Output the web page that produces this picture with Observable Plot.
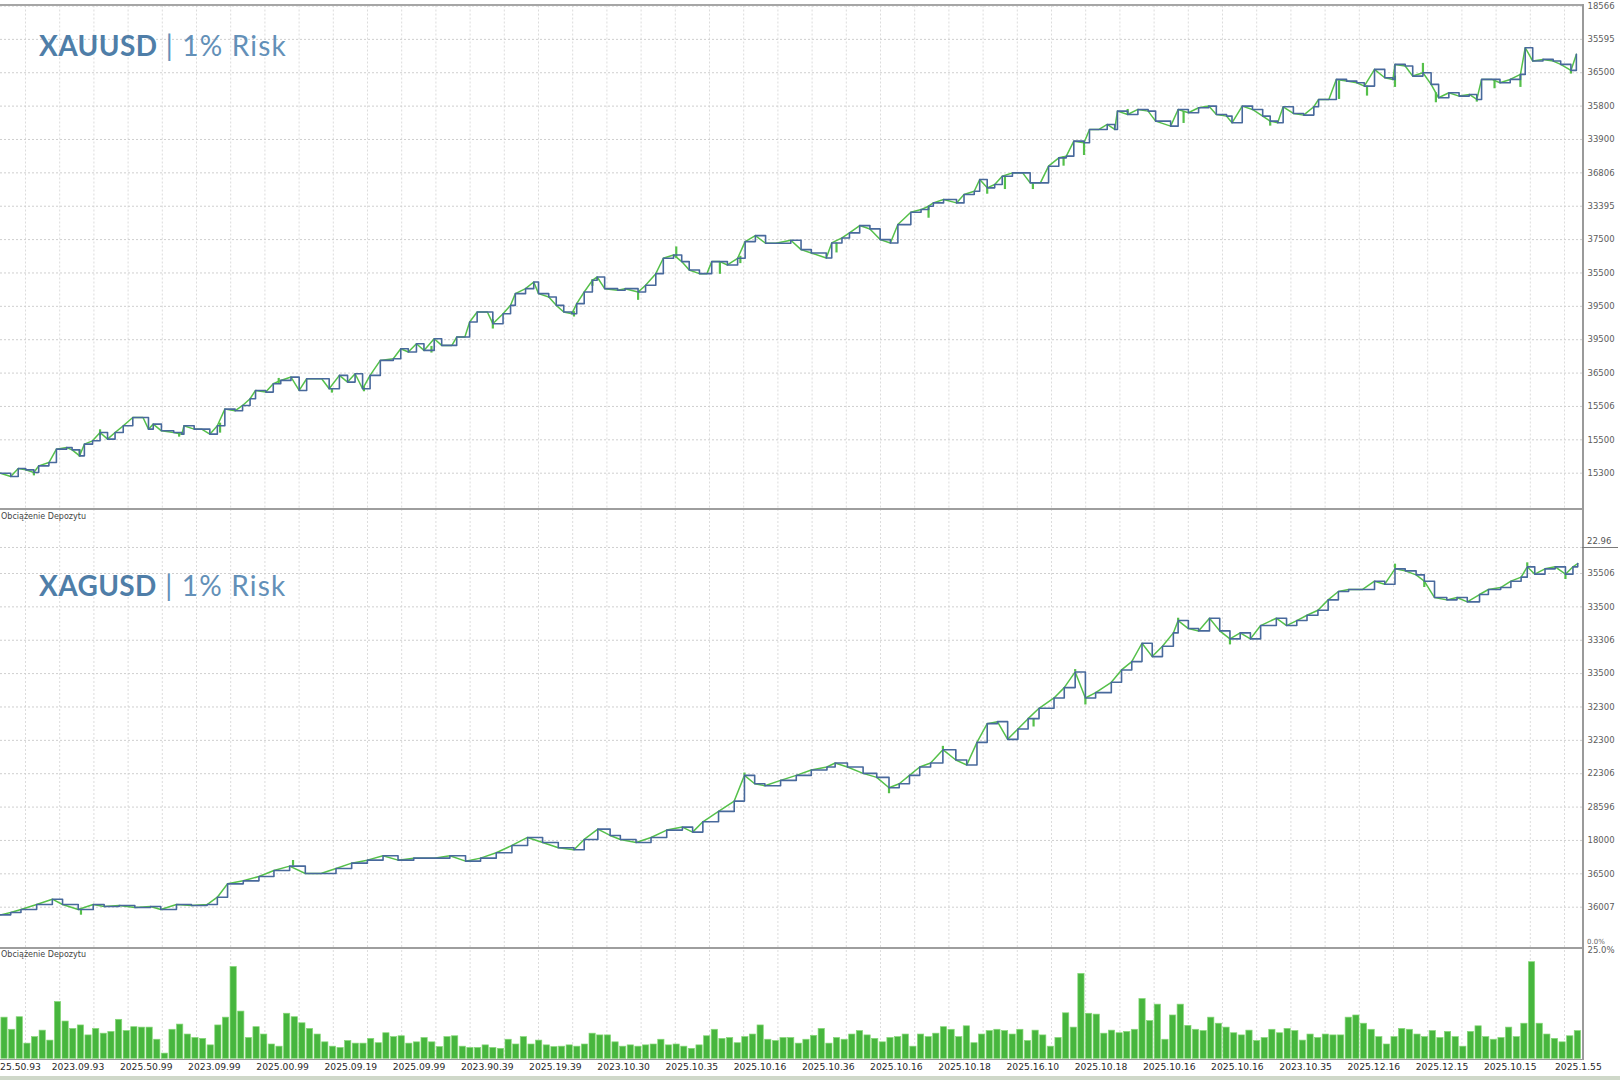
<!DOCTYPE html>
<html><head><meta charset="utf-8">
<script src="https://cdn.jsdelivr.net/npm/d3@7"></script>
<script src="https://cdn.jsdelivr.net/npm/@observablehq/plot@0.6"></script>
<style>
html,body{margin:0;padding:0;background:#fff;}
#wrap{position:relative;width:1620px;height:1080px;overflow:hidden;background:#fff;}
.pane{position:absolute;left:0;}
.title{position:absolute;left:39px;font-family:Lato,"Open Sans",sans-serif;font-size:28px;line-height:28px;color:#6390b8;white-space:nowrap;letter-spacing:1.2px;}
.title b{font-weight:700;color:#4f7ea8;letter-spacing:0.4px;}
.small{position:absolute;font-family:"DejaVu Sans",sans-serif;font-size:8px;color:#444;white-space:nowrap;line-height:10px;}
.hl{position:absolute;background:#a6a6a6;}
</style></head><body><div id="wrap"></div>
<script>
// ---------- DATA ----------
// XAUUSD balance curve: trade number and balance
const xauTrade = [
 0,1.5,2.6,3.7,4.9,5.6,7.1,8.2,9.7,10.5,
 11.6,12.3,13.5,14.6,15.7,16.8,18.0,19.4,20.9,21.7,
 22.4,23.6,25.4,26.6,26.9,28.4,29.5,30.7,31.8,32.9,
 34.4,35.5,36.6,37.4,38.9,40.0,41.1,42.6,43.8,44.9,
 47.1,48.2,49.7,50.9,52.0,53.1,54.2,55.7,57.6,58.7,
 59.8,61.0,62.1,63.6,64.7,66.2,66.9,68.1,68.8,69.9,
 71.4,72.2,73.7,74.8,75.5,77.0,78.2,78.9,80.4,81.5,
 82.6,83.8,84.5,85.6,86.8,87.5,88.6,90.5,91.6,93.5,
 94.6,96.1,97.2,98.7,99.9,101.0,102.5,103.6,104.3,105.5,
 106.6,108.1,109.2,110.7,112.2,113.7,115.9,117.4,118.9,121.1,
 121.9,123.4,124.5,126.0,127.5,129.0,130.5,131.6,133.5,135.0,
 136.1,136.8,138.3,140.2,141.3,142.8,143.6,144.7,145.8,146.9,
 148.4,149.9,151.0,152.5,153.7,155.2,156.3,157.4,158.9,159.7,
 161.1,162.3,163.4,163.8,165.3,166.8,168.3,169.4,171.6,172.7,
 174.2,175.7,177.2,178.3,179.8,180.6,182.1,183.6,185.1,186.2,
 187.3,188.1,189.6,191.1,192.6,193.3,194.8,195.9,197.4,198.9,
 200.0,201.5,203.0,204.2,204.5,206.0,207.1,208.6,209.8,210.9,
 212.4,213.9,215.4,216.5,217.2,218.7,219.9,221.4,222.9,223.6,
 224.7,226.2,227.7,228.8,230.3,231.1];
const xauBalance = [
 10000,9950,10070,10050,10010,10110,10160,10360,10385,10350,
 10260,10435,10485,10610,10510,10610,10710,10835,10835,10660,
 10735,10635,10610,10585,10710,10660,10660,10585,10710,10960,
 10935,11015,11115,11240,11215,11340,11390,11440,11240,11415,
 11415,11265,11465,11365,11490,11265,11465,11690,11715,11865,
 11815,11940,11840,12015,11915,11915,12040,12040,12265,12415,
 12415,12240,12390,12515,12690,12765,12865,12690,12640,12515,
 12415,12390,12540,12715,12890,12940,12765,12740,12765,12715,
 12815,12990,13220,13270,13170,13045,12990,12990,13170,13170,
 13120,13220,13470,13560,13445,13445,13490,13350,13300,13225,
 13450,13525,13600,13710,13660,13500,13450,13725,13910,13950,
 14000,14050,14100,14050,14175,14225,14400,14275,14325,14450,
 14500,14500,14350,14350,14600,14725,14750,14975,14950,15150,
 15150,15225,15150,15425,15375,15450,15425,15275,15200,15450,
 15400,15475,15500,15375,15350,15250,15500,15450,15350,15275,
 15250,15490,15390,15365,15490,15600,15600,15900,15875,15850,
 15800,16050,15925,15900,16125,16100,15950,16000,15825,15625,
 15700,15650,15675,15600,15900,15900,15850,15900,15975,16375,
 16175,16200,16175,16125,16035,16275];
// XAUUSD equity excursions (green)
const xauEqTrade = [4.9,11.6,14.6,26.2,32.2,40.8,48.6,53.3,63.2,72.2,84.1,86.8,93.5,99.1,105.5,108.5,122.6,136.1,144.7,147.3,151.4,155.9,158.9,165.3,173.5,186.2,196.3,200.4,204.5,208.6,210.5,216.5,219.1,222.9,230.3];
const xauEqFrom  = [10010,10350,10560,10590,10750,11340,11265,11300,11900,12300,12420,12800,12715,13220,13170,13250,13450,14000,14280,14450,14350,14740,14950,15375,15420,15275,15880,15800,15950,16000,15700,15600,15900,15975,16035];
const xauEqTo    = [9960,10240,10650,10540,10600,11420,11200,11220,11800,12160,12340,12900,12590,13390,12980,13140,13300,13820,14180,14250,14250,14600,14760,15450,15240,15200,15600,15650,15780,16140,15550,15560,15760,15780,15980];

// XAGUSD balance curve
const xagTrade = [
 0,1.5,3.0,5.3,7.6,9.1,11.4,13.6,15.2,17.4,
 19.7,22.0,23.5,25.8,28.0,30.3,31.8,33.3,35.6,37.9,
 40.1,42.4,44.7,47.0,49.2,51.5,53.8,56.1,58.3,60.6,
 63.6,65.9,68.2,70.4,72.7,75.0,77.3,79.5,81.8,84.1,
 85.6,87.6,89.4,90.9,93.2,95.4,97.7,100.0,101.5,103.0,
 105.3,107.6,109.1,110.6,112.1,114.4,116.7,118.9,121.2,122.4,
 124.2,126.5,128.5,130.3,131.8,133.3,134.8,136.4,138.2,140.1,
 141.7,143.2,144.7,146.2,147.7,149.2,150.7,152.3,154.5,156.0,
 157.6,159.1,160.6,162.9,164.4,165.9,167.4,168.9,170.4,172.0,
 172.7,174.2,175.7,177.3,178.8,180.3,181.8,183.3,184.8,187.1,
 188.6,190.1,191.6,193.2,194.7,196.2,197.7,199.7,201.5,203.0,
 204.5,206.0,207.6,208.8,210.3,212.1,213.6,215.1,216.9,218.2,
 220.0,221.5,223.0,223.9,225.0,226.5,228.0,229.5,230.6,231.3];
const xagBalance = [
 9885,9920,9965,10040,10120,10040,9965,10040,10010,10025,
 9995,10010,9965,10040,10025,10040,10150,10350,10395,10460,
 10550,10615,10505,10505,10580,10660,10705,10770,10705,10735,
 10735,10770,10690,10735,10815,10925,11045,10970,10890,10860,
 11015,11170,11075,11015,10970,11045,11155,11200,11125,11280,
 11435,11590,11975,11850,11820,11900,11975,12055,12100,12160,
 12100,12005,11945,11790,11850,11975,12100,12160,12360,12205,
 12130,12470,12750,12780,12515,12670,12825,12980,13135,13290,
 13525,13135,13215,13370,13555,13680,13955,13755,13910,14110,
 14295,14175,14140,14330,14140,14020,14110,14020,14220,14330,
 14220,14295,14375,14450,14605,14730,14760,14760,14885,14840,
 15070,15040,14980,14885,14640,14605,14640,14575,14685,14760,
 14790,14885,14945,15100,14990,15070,15100,14990,15100,15150];
const xagEqTrade = [11.8,42.9,109.1,130.3,138.2,151.5,157.6,159.1,172.7,180.3,204.5,208.8,223.9,229.5];
const xagEqFrom  = [9965,10615,11975,11790,12360,12825,13525,13135,14295,14020,15070,14885,15100,14990];
const xagEqTo    = [9880,10700,12010,11700,12410,12700,13560,13030,14330,13930,15140,14790,15160,14910];

// Deposit load (%) per bar
const depositLoad = [
 9.5,6.7,9.6,3.5,5.0,6.5,4.2,13.1,8.6,6.9,
 7.7,5.4,6.9,5.8,6.2,9.0,6.4,7.3,7.2,7.2,
 4.4,1.2,6.7,7.9,5.6,4.8,4.6,3.1,7.7,9.5,
 21.2,10.9,4.8,7.3,5.6,3.3,2.8,10.4,9.6,8.2,
 6.9,5.6,3.8,2.8,2.5,4.1,3.5,3.5,4.6,3.6,
 5.9,5.0,5.2,3.5,3.8,4.8,3.8,2.7,5.0,5.2,
 2.8,2.5,2.5,3.1,2.5,2.3,4.4,3.3,5.0,3.3,4.2,
 3.1,2.7,2.8,3.1,2.8,3.3,5.8,5.4,5.4,3.8,
 2.8,3.1,2.8,3.1,3.3,4.4,3.1,3.3,2.8,2.3,
 3.1,5.2,6.7,4.6,4.8,3.6,5.0,5.6,7.7,4.4,
 4.1,4.8,4.8,3.5,4.4,5.3,6.9,3.5,4.8,4.4,
 5.6,6.4,5.4,4.6,3.8,4.8,5.0,5.6,2.8,5.6,
 5.0,5.8,7.3,6.7,5.0,7.5,3.6,5.6,6.4,6.7,
 6.4,5.6,6.7,4.1,6.5,5.4,2.8,4.8,10.5,7.2,
 19.6,10.4,
 10.2,5.8,6.5,5.9,6.2,6.7,13.8,8.7,12.5,4.4,
 10.0,12.5,7.6,6.7,6.4,9.5,8.1,7.2,5.9,5.4,
 6.5,4.1,4.8,6.7,5.9,6.9,6.4,4.2,5.6,4.8,
 5.6,5.4,5.4,9.5,10.0,8.1,6.7,5.0,3.3,5.0,
 6.9,6.7,5.6,5.0,6.4,4.8,6.2,5.0,2.8,6.2,
 7.5,5.0,4.4,4.8,7.2,5.0,8.1,22.3,8.1,5.6,
 4.6,3.8,5.2,6.4];

// Tick values and labels
const xauTickValues = [10000,10500,11000,11500,12000,12500,13000,13500,14000,14500,15000,15500,16000,16500,17000];
const xauTickLabels = ["15300","15500","15506","36500","39500","39500","35500","37500","33395","36806","33900","35800","36500","35595","18566"];
const xagTickValues = [10000,10500,11000,11500,12000,12500,13000,13500,14000,14500,15000];
const xagTickLabels = ["36007","36500","18000","28596","22306","32300","32300","33500","33306","33500","35506"];
const dateLabels = ["25.50.93","2023.09.93","2025.50.99","2023.09.99","2025.00.99","2025.09.19","2025.09.99","2023.90.39","2025.19.39","2023.10.30","2025.10.35","2025.10.16","2025.10.36","2025.10.16","2025.10.18","2025.16.10","2025.10.18","2025.10.16","2025.10.16","2023.10.35","2025.12.16","2025.12.15","2025.10.15","2025.1.55"];
const loadTickValues = [25];
const loadTickLabels = ["25.0%"];

// ---------- LAYOUT ----------
const W = 1620, PR = 1582;
const blue = "#48699c", green = "#55c04a";
const gridH = {stroke:"#cfcfcf", strokeOpacity:1, strokeDasharray:"2,2"};
const gridV = {stroke:"#dcdcdc", strokeOpacity:1, strokeDasharray:"2,2"};
const lineX = d3.scaleLinear([0, 232], [0, PR]);
const gridPx = d3.range(25, PR, 34.2);
const lineGrid = gridPx.map(p => lineX.invert(p));
const baseStyle = {background:"transparent", fontFamily:"DejaVu Sans, sans-serif", fontSize:"8.5px", color:"#5c5c5c", overflow:"visible"};

const wrap = document.getElementById("wrap");
function place(el, top){ el.classList.add("pane"); el.style.top = top + "px"; wrap.appendChild(el); }

function equityPanel(o){
  const bal = o.T.map((t,i)=>({t, v:o.V[i]}));
  const eq = o.ET.map((t,i)=>({t, a:o.EF[i], b:o.ETo[i]}));
  return Plot.plot({
    width: W, height: o.height,
    marginLeft: 0, marginRight: W - PR, marginTop: o.mTop, marginBottom: o.mBottom,
    x: {domain:[0,232], axis:null},
    y: {domain:o.yDomain},
    style: baseStyle,
    marks: [
      Plot.gridX(lineGrid, gridV),
      Plot.gridY(o.grid, gridH),
      Plot.axisY(o.ticks, {anchor:"right", tickSize:0, tickPadding:5, label:null,
        tickFormat: d => o.labels[o.ticks.indexOf(d)]}),
      Plot.line(bal, {x:"t", y:"v", stroke:green, strokeWidth:1.5, curve:"linear"}),
      Plot.ruleX(eq, {x:"t", y1:"a", y2:"b", stroke:green, strokeWidth:2.2}),
      Plot.line(bal, {x:"t", y:"v", stroke:blue, strokeWidth:1.6, curve:"step-after"})
    ]
  });
}

const p1 = equityPanel({height:509, mTop:5.5, mBottom:1, yDomain:[9471,17000],
  ticks:xauTickValues, labels:xauTickLabels, grid:xauTickValues,
  T:xauTrade, V:xauBalance, ET:xauEqTrade, EF:xauEqFrom, ETo:xauEqTo});
place(p1, 0);

const p2 = equityPanel({height:439, mTop:0, mBottom:0, yDomain:[9381,15959],
  ticks:xagTickValues, labels:xagTickLabels, grid:xagTickValues.concat([15390]),
  T:xagTrade, V:xagBalance, ET:xagEqTrade, EF:xagEqFrom, ETo:xagEqTo});
place(p2, 509);

const nb = depositLoad.length;
const barX = d3.scaleLinear([0, nb], [0, 1581]);
const bars = depositLoad.map((v,i)=>({i, j:i+1, v}));
const dateTicks = dateLabels.map((_,m) => barX.invert(m === 0 ? 20 : 9.3 + 68.2*m));
const p3 = Plot.plot({
  width: W, height: 132,
  marginLeft: 0, marginRight: W - 1581, marginTop: 2, marginBottom: 21.7,
  x: {domain:[0, nb]},
  y: {domain:[0, 25]},
  style: baseStyle,
  marks: [
    Plot.gridX(gridPx.map(p => barX.invert(p)), gridV),
    Plot.rectY(bars, {x1:"i", x2:"j", y:"v", fill:"#47b63e", stroke:"#86d878", strokeWidth:0.7, insetLeft:0.9, insetRight:0.5}),
    Plot.axisY(loadTickValues, {anchor:"right", tickSize:0, tickPadding:6, label:null,
      tickFormat: d => loadTickLabels[loadTickValues.indexOf(d)]}),
    Plot.axisX(dateTicks, {anchor:"bottom", tickSize:0, tickPadding:5, label:null,
      fontSize:9.2, fill:"#2a2a2a",
      tickFormat: d => dateLabels[dateTicks.indexOf(d)]})
  ]
});
place(p3, 948);

// ---------- frame lines & texts ----------
function hline(x, y, w, h, c){ const d=document.createElement("div"); d.className="hl"; Object.assign(d.style,{left:x+"px",top:y+"px",width:w+"px",height:h+"px"}); if(c) d.style.background=c; wrap.appendChild(d); }
hline(0, 4, PR, 2);
hline(0, 507.5, PR, 2.2, "#9e9e9e");
hline(0, 947, PR, 2.2, "#9e9e9e");
hline(0, 1058.5, PR, 1, "#9a9a9a");
hline(PR, 4, 1.6, 1056, "#9a9a9a");
hline(PR, 546.5, 36, 1.4, "#7a7a7a");
hline(0, 1076, 1620, 4, "#cfd8c9");

function txt(cls, html, x, y, extra){ const d=document.createElement("div"); d.className=cls; d.innerHTML=html; d.style.left=x+"px"; d.style.top=y+"px"; if(extra) Object.assign(d.style, extra); wrap.appendChild(d); }
txt("title", "<b>XAUUSD</b> | 1% Risk", 39, 31);
txt("title", "<b>XAGUSD</b> | 1% Risk", 39, 571);
txt("small", "Obciążenie Depozytu", 1, 511.5);
txt("small", "Obciążenie Depozytu", 1, 950);
txt("small", "22.96", 1587, 535.5, {fontSize:"8.5px", color:"#555"});
txt("small", "0.0%", 1587, 937, {fontSize:"7px", color:"#666"});
</script></body></html>
